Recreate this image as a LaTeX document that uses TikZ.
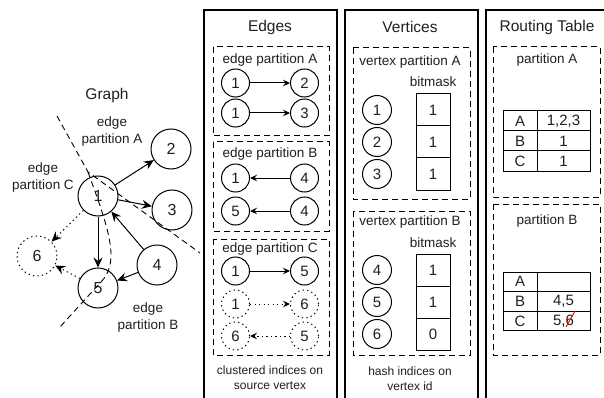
\documentclass[tikz,border=0pt]{standalone}
\usepackage{fontspec}
\setmainfont{Liberation Sans}
\usetikzlibrary{arrows.meta}
\begin{document}
\begin{tikzpicture}[x=1pt,y=-1pt,
  every node/.style={text=black!88},
  title/.style={font=\fontsize{15.5}{18}\selectfont},
  lbl/.style={font=\fontsize{13.5}{17}\selectfont, align=center, inner sep=0pt},
  note/.style={font=\fontsize{12}{15}\selectfont, align=center, inner sep=0pt},
  gnode/.style={circle, draw, line width=1pt, minimum size=40pt, inner sep=0pt, font=\fontsize{16}{18}\selectfont},
  enode/.style={circle, draw, line width=1pt, minimum size=28pt, inner sep=0pt, font=\fontsize{15}{18}\selectfont},
  vnode/.style={circle, draw, line width=1pt, minimum size=29pt, inner sep=0pt, font=\fontsize{15}{18}\selectfont},
  dotline/.style={dash pattern=on 1.3pt off 3.2pt},
  cellbox/.style={draw, rectangle, line width=1pt, inner sep=0pt, font=\fontsize{15}{18}\selectfont},
  panel/.style={draw, line width=1.2pt},
  part/.style={draw, dash pattern=on 6pt off 4pt, line width=1pt},
  garr/.style={-{Stealth[length=10pt,width=9pt,inset=3.5pt]}, line width=1pt},
  earr/.style={-{Stealth[length=7pt,width=6.5pt,inset=2.5pt]}, line width=1pt},
  cut/.style={dash pattern=on 6pt off 4pt, line width=0.9pt}
]
\useasboundingbox (0,0) rectangle (604,398);

% ---------------- Graph ----------------
\node[title] (gtitle) at (107,95) {Graph};
\node[gnode] (g1) at (98,196) {1};
\node[gnode] (g2) at (171,149) {2};
\node[gnode] (g3) at (172,210) {3};
\node[gnode] (g4) at (157,265) {4};
\node[gnode] (g5) at (98,288) {5};
\node[gnode, dotline] (g6) at (37,256) {6};

\draw[garr] (g1) -- (g2);
\draw[garr] (g1) -- (g3);
\draw[garr] (g1) -- (g5);
\draw[garr] (g4) -- (g1);
\draw[garr] (g4) -- (g5);
\draw[garr, dotline] (g1) -- (g6);
\draw[garr, dotline] (g5) -- (g6);

\coordinate (c0) at (57,116);
\coordinate (cm) at (88,172);
\coordinate (cr) at (200,253);
\coordinate (cb) at (60,327);
\draw[cut] (c0) -- (cm) -- (cr);
\draw[cut] (cm) .. controls (98,200) and (112,235) .. (111,258)
               .. controls (110,270) and (106,277) .. (100,283) -- (cb);

\node[lbl] (la) at (112,132) {edge\\partition A};
\node[lbl] (lc) at (43,178) {edge\\partition C};
\node[lbl] (lb) at (148,318) {edge\\partition B};

% ---------------- Edges ----------------
\draw[panel] (204,10) rectangle (337,410);
\node[title] (etitle) at (270,27) {Edges};

\draw[part] (213,47) rectangle (329,136);
\node[lbl] (epa) at (270,60) {edge partition A};
\node[enode] (ea1) at (235.5,83) {1};
\node[enode] (ea2) at (304.5,83) {2};
\node[enode] (ea3) at (235.5,113) {1};
\node[enode] (ea4) at (304.5,113) {3};
\draw[earr] (ea1) -- (ea2);
\draw[earr] (ea3) -- (ea4);

\draw[part] (213,142) rectangle (329,231);
\node[lbl] (epb) at (270,154) {edge partition B};
\node[enode] (eb1) at (235.5,178) {1};
\node[enode] (eb2) at (304.5,178) {4};
\node[enode] (eb3) at (235.5,211) {5};
\node[enode] (eb4) at (304.5,211) {4};
\draw[earr] (eb2) -- (eb1);
\draw[earr] (eb4) -- (eb3);

\draw[part] (213,239) rectangle (329,355);
\node[lbl] (epc) at (270,249) {edge partition C};
\node[enode] (ec1) at (235.5,271) {1};
\node[enode] (ec2) at (304.5,271) {5};
\node[enode, dotline] (ec3) at (235.5,304) {1};
\node[enode, dotline] (ec4) at (304.5,304) {6};
\node[enode, dotline] (ec5) at (235.5,336) {6};
\node[enode, dotline] (ec6) at (304.5,336) {5};
\draw[earr] (ec1) -- (ec2);
\draw[earr, dotline] (ec3) -- (ec4);
\draw[earr, dotline] (ec6) -- (ec5);

\node[note] (enote) at (270,378) {clustered indices on\\source vertex};

% ---------------- Vertices ----------------
\draw[panel] (345,10) rectangle (478,410);
\node[title] (vtitle) at (410,27) {Vertices};

\draw[part] (353,48) rectangle (470,199);
\node[lbl] (vpa) at (410,62) {vertex partition A};
\node[lbl] (bma) at (433,82) {bitmask};
\node[vnode] (va1) at (377,110) {1};
\node[vnode] (va2) at (377,142) {2};
\node[vnode] (va3) at (377,174) {3};
\node[cellbox, minimum width=34pt, minimum height=32pt] (ba1) at (433,110) {1};
\node[cellbox, minimum width=34pt, minimum height=32pt] (ba2) at (433,142) {1};
\node[cellbox, minimum width=34pt, minimum height=32pt] (ba3) at (433,174) {1};

\draw[part] (353,211) rectangle (470,355);
\node[lbl] (vpb) at (410,222) {vertex partition B};
\node[lbl] (bmb) at (433,243) {bitmask};
\node[vnode] (vb1) at (377,270) {4};
\node[vnode] (vb2) at (377,302) {5};
\node[vnode] (vb3) at (377,334) {6};
\node[cellbox, minimum width=34pt, minimum height=32pt] (bb1) at (433,270) {1};
\node[cellbox, minimum width=34pt, minimum height=32pt] (bb2) at (433,302) {1};
\node[cellbox, minimum width=34pt, minimum height=32pt] (bb3) at (433,334) {0};

\node[note] (vnote) at (410,379) {hash indices on\\vertex id};

% ---------------- Routing Table ----------------
\draw[panel] (486,10) rectangle (615,410);
\node[title] (rtitle) at (547,27) {Routing Table};

\draw[part] (493,47) rectangle (600,197);
\node[lbl] (rpa) at (547,60) {partition A};
\node[cellbox, minimum width=34pt, minimum height=20pt] (ta1) at (520,121) {A};
\node[cellbox, minimum width=53pt, minimum height=20pt] (ta2) at (563.5,121) {1,2,3};
\node[cellbox, minimum width=34pt, minimum height=20pt] (ta3) at (520,141) {B};
\node[cellbox, minimum width=53pt, minimum height=20pt] (ta4) at (563.5,141) {1};
\node[cellbox, minimum width=34pt, minimum height=20pt] (ta5) at (520,161) {C};
\node[cellbox, minimum width=53pt, minimum height=20pt] (ta6) at (563.5,161) {1};

\draw[part] (493,204) rectangle (600,355);
\node[lbl] (rpb) at (547,221) {partition B};
\node[cellbox, minimum width=34pt, minimum height=19.6pt] (tb1) at (520,281.8) {A};
\node[cellbox, minimum width=53pt, minimum height=19.6pt] (tb2) at (563.5,281.8) {};
\node[cellbox, minimum width=34pt, minimum height=19.6pt] (tb3) at (520,301.4) {B};
\node[cellbox, minimum width=53pt, minimum height=19.6pt] (tb4) at (563.5,301.4) {4,5};
\node[cellbox, minimum width=34pt, minimum height=19.6pt] (tb5) at (520,321) {C};
\node[cellbox, minimum width=53pt, minimum height=19.6pt] (tb6) at (563.5,321) {5,6};
\coordinate (s1) at (566,327);
\coordinate (s2) at (575,311);
\draw[red, line width=0.9pt] (s1) -- (s2);

\end{tikzpicture}
\end{document}
